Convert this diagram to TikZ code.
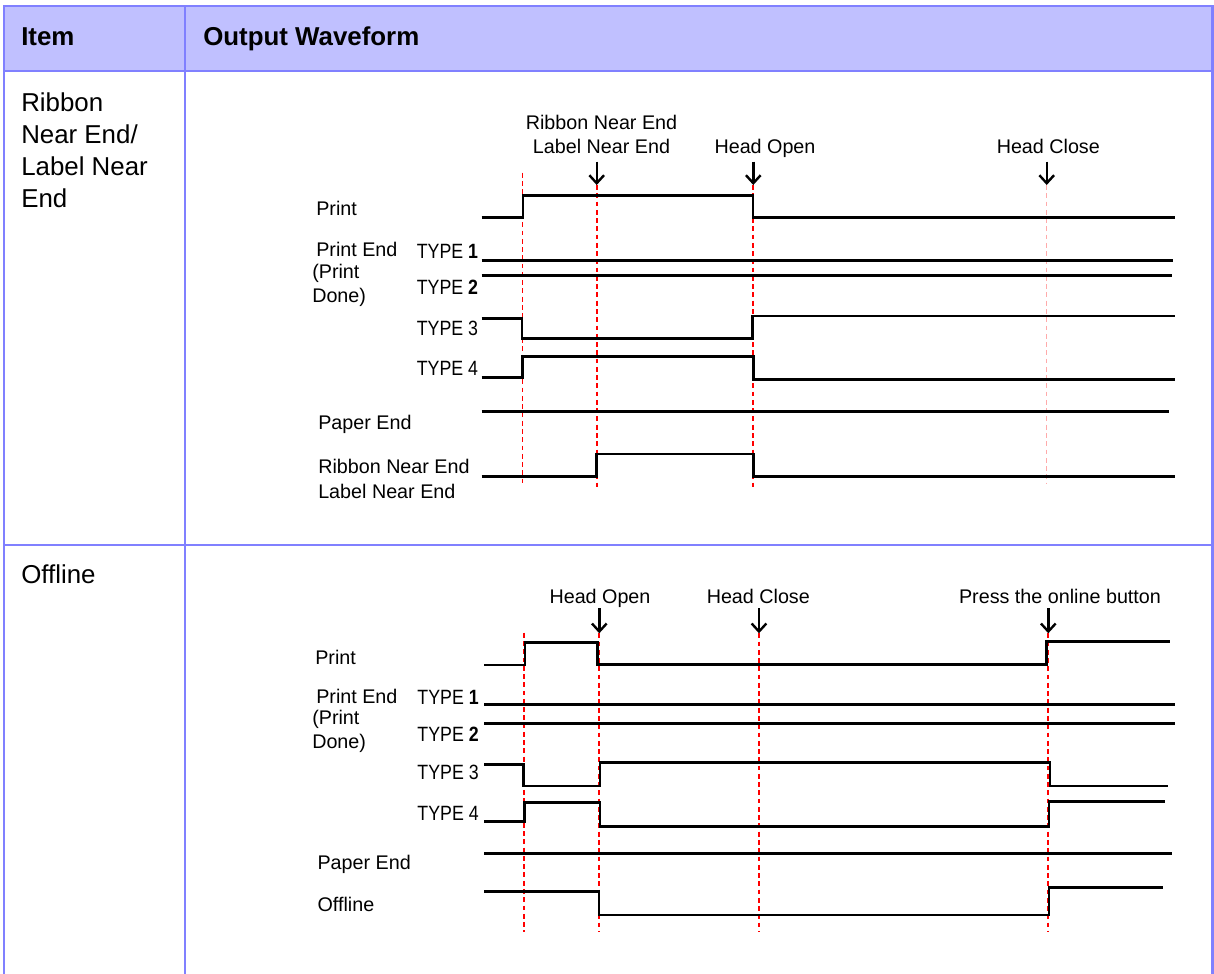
\documentclass[tikz,border=0pt]{standalone}
\usepackage{fontspec}
\setmainfont{Liberation Sans}
\newfontfamily\narrowfont[FakeStretch=0.86]{Liberation Sans}
\usetikzlibrary{arrows.meta,positioning}
\definecolor{hdrfill}{RGB}{192,192,255}
\definecolor{tblblue}{RGB}{128,128,255}
\definecolor{evred}{RGB}{255,0,0}
\definecolor{evpink}{RGB}{255,170,170}
\tikzset{
  hdr/.style={anchor=base west, inner sep=0pt, font=\fontsize{19.4}{23.8}\selectfont\bfseries},
  itm/.style={anchor=north west, inner sep=0pt, align=left, font=\fontsize{19.4}{23.8}\selectfont},
  lbl/.style={anchor=base west, inner sep=0pt, align=left, font=\fontsize{14.8}{18}\selectfont},
  evlbl/.style={anchor=base, inner sep=0pt, align=center, font=\fontsize{14.8}{18}\selectfont},
  tlbl/.style={anchor=base east, inner sep=0pt, font=\fontsize{15.5}{18}\narrowfont},
  sig/.style={line width=2.2pt, line join=miter},
  evline/.style={evred, line width=1.4pt, dash pattern=on 3.6pt off 2.6pt},
  evfaint/.style={evpink, line width=1pt, dash pattern=on 3.6pt off 2.6pt},
  evarr/.style={-{Straight Barb[length=6pt,width=11pt]}, line width=1.8pt},
  tblline/.style={tblblue, line width=1.6pt},
}
\begin{document}
\begin{tikzpicture}[x=0.75pt, y=-0.75pt]
\useasboundingbox (0,0) rectangle (1214,974);
% table
\fill[hdrfill] (4,6) rectangle (1212.5,71);
\draw[tblline] (4,974) -- (4,6) -- (1212.5,6) -- (1212.5,974);
\draw[tblline] (4,71) -- (1212.5,71);
\draw[tblline] (4,545) -- (1212.5,545);
\draw[tblline] (185,6) -- (185,974);
\node[hdr] (item) at (21,46) {Item};
\node[hdr] (wave) at (203,46) {Output Waveform};
\node[itm] (rne) at (21,92.8) {Ribbon\\Near End/\\Label Near\\End};
\node[itm] (off) at (21,564.4) {Offline};

% row 1: Ribbon Near End / Label Near End
\node[evlbl, anchor=north] (ev1a) at (601.5,115.2) {Ribbon Near End\\Label Near End};
\node[evlbl] (ev1b) at (765,153.7) {Head Open};
\node[evlbl] (ev1c) at (1048.3,153.7) {Head Close};
\foreach \n/\x in {a/596.7, b/753.3, c/1046.7} {
  \coordinate (top1\n) at (\x,161.7);
  \coordinate (tip1\n) at (\x,185);
  \draw[evarr] (top1\n) -- (tip1\n);
}
\coordinate (s1) at (522.5,172.7);
\coordinate (e1) at (522.5,486.7);
\draw[evline] (s1) -- (e1);
\draw[evline] (tip1a) -- (tip1a |- e1);
\draw[evline] (tip1b) -- (tip1b |- e1);
\draw[evfaint] (tip1c) -- ([yshift=2.5pt]tip1c |- e1);

\node[lbl] (pr1) at (316,215.3) {Print};
\node[lbl] (pe1) at (316,256) {Print End};
\node[lbl] (pd1) at (312,278.7) {(Print};
\node[lbl] (dn1) at (312,302) {Done)};
\node[tlbl] (ta1) at (478.3,258.2) {TYPE \textbf{1}};
\node[tlbl] (tb1) at (478.3,294.8) {TYPE \textbf{2}};
\node[tlbl] (tc1) at (478.3,335.8) {TYPE 3};
\node[tlbl] (td1) at (478.3,375.8) {TYPE 4};
\node[lbl] (pp1) at (318,429) {Paper End};
\node[lbl] (rl1) at (318,473.7) {Ribbon Near End};
\node[lbl] (ll1) at (318,498.7) {Label Near End};

\draw[sig] (481.7,217.3) -- (523,217.3) -- (523,195.7) -- (753,195.7) -- (753,217.3) -- (1175,217.3);
\draw[sig] (481.7,260.5) -- (1172.7,260.5);
\draw[sig] (481.7,275.3) -- (1171.7,275.3);
\draw[sig] (481.7,318.3) -- (522,318.3) -- (522,338.8) -- (752.5,338.8) -- (752.5,316) -- (1175,316);
\draw[sig] (481.7,377.7) -- (522.3,377.7) -- (522.3,356.7) -- (753.3,356.7) -- (753.3,379.5) -- (1175,379.5);
\draw[sig] (481.7,411.8) -- (1169.3,411.8);
\draw[sig] (481.7,476.7) -- (596.7,476.7) -- (596.7,454) -- (753.3,454) -- (753.3,476.3) -- (1175,476.3);

% row 2: Offline
\node[evlbl] (ev2a) at (600,603.7) {Head Open};
\node[evlbl] (ev2b) at (758.3,603.7) {Head Close};
\node[evlbl] (ev2c) at (1060,603.7) {Press the online button};
\foreach \n/\x in {a/599.3, b/759, c/1048.3} {
  \coordinate (top2\n) at (\x,608.3);
  \coordinate (tip2\n) at (\x,633.3);
  \draw[evarr] (top2\n) -- (tip2\n);
}
\coordinate (s2) at (524.3,632.7);
\coordinate (e2) at (524.3,931.5);
\draw[evline] (s2) -- (e2);
\draw[evline] (tip2a) -- (tip2a |- e2);
\draw[evline] (tip2b) -- (tip2b |- e2);
\draw[evline] (tip2c) -- (tip2c |- e2);

\node[lbl] (pr2) at (315,664.3) {Print};
\node[lbl] (pe2) at (316,703.7) {Print End};
\node[lbl] (pd2) at (312,724.3) {(Print};
\node[lbl] (dn2) at (312,748.7) {Done)};
\node[tlbl] (ta2) at (479,704.2) {TYPE \textbf{1}};
\node[tlbl] (tb2) at (479,741.5) {TYPE \textbf{2}};
\node[tlbl] (tc2) at (479,779.8) {TYPE 3};
\node[tlbl] (td2) at (479,820.8) {TYPE 4};
\node[lbl] (pp2) at (317.3,869.5) {Paper End};
\node[lbl] (ol2) at (317.3,911.7) {Offline};

\draw[sig] (484,665) -- (525,665) -- (525,642.3) -- (597.3,642.3) -- (597.3,664.5) -- (1046.7,664.5) -- (1046.7,641.7) -- (1170,641.7);
\draw[sig] (484,704.3) -- (1175,704.3);
\draw[sig] (484,723.2) -- (1175,723.2);
\draw[sig] (484,764.3) -- (523.3,764.3) -- (523.3,786) -- (600,786) -- (600,762.5) -- (1050,762.5) -- (1050,786) -- (1168.3,786);
\draw[sig] (484,821.7) -- (524.5,821.7) -- (524.5,802.3) -- (600,802.3) -- (600,826.3) -- (1049,826.3) -- (1049,801.7) -- (1165,801.7);
\draw[sig] (484,853.3) -- (1171.7,853.3);
\draw[sig] (484,891.7) -- (599,891.7) -- (599,915) -- (1049,915) -- (1049,887.7) -- (1163.3,887.7);
\end{tikzpicture}
\end{document}
